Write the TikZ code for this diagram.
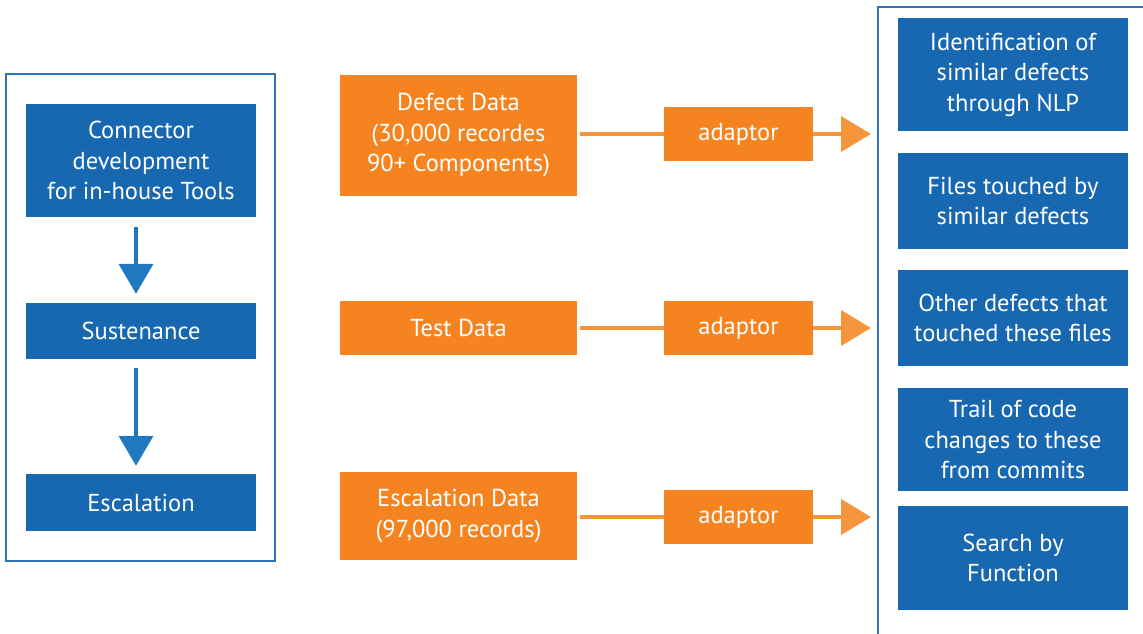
\documentclass[tikz,border=0pt]{standalone}
\usepackage{fontspec}
\setmainfont{PT Sans}
\usetikzlibrary{arrows.meta}

\definecolor{boxblue}{HTML}{1767B1}
\definecolor{arrowblue}{HTML}{1F78C0}
\definecolor{frameblue}{HTML}{2F72B8}
\definecolor{boxorange}{HTML}{F58420}
\definecolor{lineorange}{HTML}{F6963C}

\begin{document}
\begin{tikzpicture}[x=1pt, y=-1pt,
    boxtext/.style={text=white, align=center, inner sep=0pt, font=\fontsize{24.5}{30.5}\selectfont},
    bluebox/.style={boxtext, fill=boxblue, minimum width=230pt},
    orangebox/.style={boxtext, fill=boxorange, minimum width=237pt},
    adaptorbox/.style={boxtext, fill=boxorange, minimum width=149pt, minimum height=54pt},
    downarrow/.style={arrowblue, line width=4pt, -{Triangle[width=34pt,length=30pt]}},
    feed/.style={lineorange, line width=4pt},
    feedarrow/.style={feed, -{Triangle[width=35pt,length=30pt]}}]
        \useasboundingbox (0,0) rectangle (1143,634);

        % Frames round the two columns
        \draw[frameblue, line width=2pt] (6,74) rectangle (275,561);
        \draw[frameblue, line width=2.5pt] (878,640) -- (878,7) -- (1150,7);
        \coordinate (rail) at (871,0);

        % Left column: tool stages
        \node[bluebox, minimum height=113pt] (connector) at (141,160.5) {Connector\\development\\for in-house Tools};
        \node[bluebox, minimum height=56pt] (sustenance) at (141,331) {Sustenance};
        \node[bluebox, minimum height=57pt] (escalation) at (141,502.5) {Escalation};
        \draw[downarrow, shorten <=10pt, shorten >=9pt] ([xshift=-5pt]connector.south) -- ([xshift=-5pt]sustenance.north);
        \draw[downarrow, shorten <=9pt, shorten >=8pt] ([xshift=-5pt]sustenance.south) -- ([xshift=-5pt]escalation.north);

        % Middle column: data sources and adaptors
        \node[orangebox, minimum height=121pt] (defect) at (458.5,135.5) {Defect Data\\(30,000 recordes\\90+ Components)};
        \node[orangebox, minimum height=54pt] (test) at (458.5,328) {Test Data};
        \node[orangebox, minimum height=88pt] (escdata) at (458.5,516) {Escalation Data\\(97,000 records)};

        \node[adaptorbox] (adapt1) at (738.5,134) {adaptor};
        \node[adaptorbox] (adapt2) at (738.5,328) {adaptor};
        \node[adaptorbox] (adapt3) at (738.5,517) {adaptor};

        \draw[feed, shorten <=3pt] (defect.east |- adapt1) -- (adapt1.west);
        \draw[feed, shorten <=3pt] (test.east |- adapt2) -- (adapt2.west);
        \draw[feed, shorten <=3pt] (escdata.east |- adapt3) -- (adapt3.west);
        \draw[feedarrow] (adapt1.east) -- (adapt1.east -| rail);
        \draw[feedarrow] (adapt2.east) -- (adapt2.east -| rail);
        \draw[feedarrow] (adapt3.east) -- (adapt3.east -| rail);

        % Right column: results
        \node[bluebox, minimum height=113pt] (nlp) at (1013,74.5) {Identification of\\similar defects\\through NLP};
        \node[bluebox, minimum height=96pt] (files) at (1013,201) {Files touched by\\similar defects};
        \node[bluebox, minimum height=96pt] (others) at (1013,318) {Other defects that\\touched these files};
        \node[bluebox, minimum height=103pt] (trail) at (1013,439.5) {Trail of code\\changes to these\\from commits};
        \node[bluebox, minimum height=104pt] (search) at (1013,558) {Search by\\Function};
\end{tikzpicture}
\end{document}
